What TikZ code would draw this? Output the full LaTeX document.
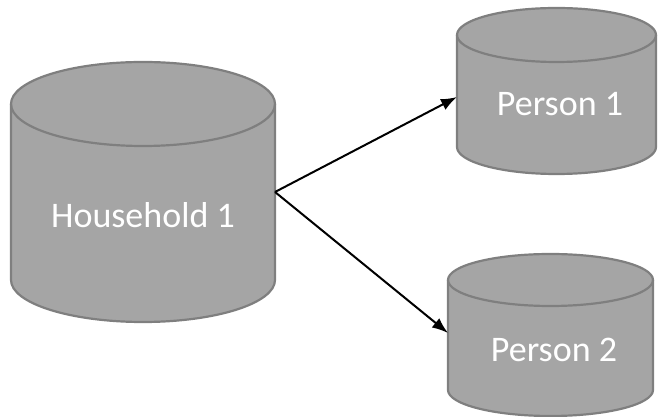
\documentclass[tikz,border=0pt]{standalone}
\usepackage{fontspec}
\setmainfont{Carlito}
\usetikzlibrary{arrows.meta}

\definecolor{cylfill}{HTML}{A5A5A5}
\definecolor{cylline}{HTML}{7F7F7F}

\tikzset{
    cyl/.style={fill=cylfill, draw=cylline, line width=2.2pt},
    cyllabel/.style={text=white, font=\fontsize{36}{40}\selectfont},
    link/.style={line width=2pt, -{Latex[length=16pt,width=12pt]}}
}

% centre x, x radius, top y, bottom y, y radius
\newcommand{\dbcyl}[5]{
    \filldraw[cyl] (#1-#2,#3) -- (#1-#2,#4)
        arc[start angle=180, end angle=360, x radius=#2, y radius=#5]
        -- (#1+#2,#3)
        arc[start angle=0, end angle=180, x radius=#2, y radius=#5] -- cycle;
    \draw[cyl, fill=none] (#1-#2,#3)
        arc[start angle=180, end angle=360, x radius=#2, y radius=#5];
}

\begin{document}
\begin{tikzpicture}[x=1pt, y=1pt]
    \useasboundingbox (0,0) rectangle (661,417);

    % Cylinders
    \dbcyl{143}{132}{313}{137}{42}
    \dbcyl{556.5}{99.5}{382}{270}{27}
    \dbcyl{550.5}{102.5}{137}{27}{26}

    % Labels
    \node[cyllabel] (hh) at (143,202) {Household 1};
    \node[cyllabel] (pa) at (560,313) {Person 1};
    \node[cyllabel] (pb) at (554,67) {Person 2};

    % Arrow ends on the cylinder sides
    \coordinate (hh east) at (275,225);
    \coordinate (pa west) at (457,320);
    \coordinate (pb west) at (448,84);

    % Links
    \draw[link] (hh east) -- (pa west);
    \draw[link] (hh east) -- (pb west);
\end{tikzpicture}
\end{document}
